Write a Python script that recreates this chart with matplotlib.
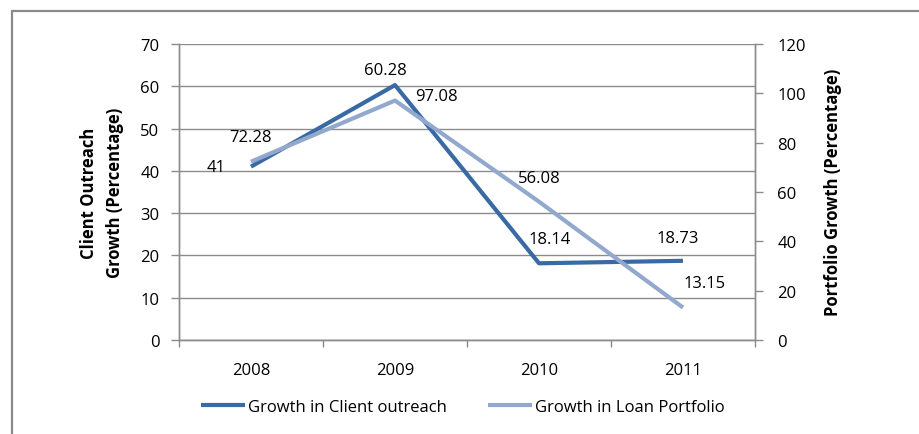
import numpy as np
import matplotlib.pyplot as plt
from matplotlib.patches import Rectangle

plt.rcParams['font.family'] = ['Open Sans', 'DejaVu Sans']

years = ['2008', '2009', '2010', '2011']
client_growth = [41, 60.28, 18.14, 18.73]
loan_growth = [72.28, 97.08, 56.08, 13.15]

# label offsets in pixels, per point
client_offsets = [(-35, 0), (-10, 15), (11, 24), (-5, 23)]
loan_offsets = [(0, 25), (41, 5), (0, 24), (22, 25)]

dark = '#3A6AA3'
light = '#93A8CD'
grid_col = '#8C8C8C'
fs = 12

fig = plt.figure(figsize=(9.19, 4.35), dpi=100)
fig.patches.append(Rectangle((12 / 919, -0.1), 1.1, 1 - 12 / 435 + 0.1,
                             transform=fig.transFigure, fill=False,
                             edgecolor='#8A8A8A', linewidth=1.6))

ax = fig.add_axes([179 / 919, 1 - 341 / 435, (755 - 179) / 919, (341 - 45) / 435])
ax2 = ax.twinx()

x = np.arange(len(years))
ax.plot(x, client_growth, color=dark, linewidth=3, solid_capstyle='butt',
        zorder=4, label='Growth in Client outreach')
ax2.plot(x, loan_growth, color=light, linewidth=3, solid_capstyle='butt',
         zorder=3, label='Growth in Loan Portfolio')

for xi, v, off in zip(x, client_growth, client_offsets):
    ax.annotate(f'{v:g}', (xi, v), xytext=off, textcoords='offset pixels',
                ha='center', va='center', fontsize=fs)
for xi, v, off in zip(x, loan_growth, loan_offsets):
    ax2.annotate(f'{v:g}', (xi, v), xytext=off, textcoords='offset pixels',
                 ha='center', va='center', fontsize=fs)

ax.set_xlim(-0.5, 3.5)
ax.set_ylim(0, 70)
ax2.set_ylim(0, 120)
ax.set_yticks(np.arange(0, 71, 10))
ax2.set_yticks(np.arange(0, 121, 20))

# category boundaries get the ticks, labels sit between them
ax.set_xticks(np.arange(-0.5, 4, 1))
ax.set_xticklabels([])
ax.set_xticks(x, minor=True)
ax.set_xticklabels(years, minor=True)
ax.tick_params(axis='x', which='major', length=5, color=grid_col, width=1)
ax.tick_params(axis='x', which='minor', length=0, pad=16, labelsize=fs)
ax.tick_params(axis='y', length=6, color=grid_col, width=1, pad=8, labelsize=fs)
ax2.tick_params(axis='y', length=6, color=grid_col, width=1, pad=10, labelsize=fs)

ax.grid(axis='y', color=grid_col, linewidth=1)
ax.set_axisbelow(True)
for a in (ax, ax2):
    a.spines['top'].set_visible(False)
    for s in ('left', 'right', 'bottom'):
        a.spines[s].set_color(grid_col)
        a.spines[s].set_linewidth(1)

fig.text(102 / 919, 1 - 193 / 435, 'Client Outreach\nGrowth (Percentage)',
         rotation=90, ha='center', va='center', fontsize=fs,
         fontweight='bold', linespacing=1.55)
fig.text(833 / 919, 1 - 192 / 435, 'Portfolio Growth (Percentage)',
         rotation=90, ha='center', va='center', fontsize=fs,
         fontweight='bold')

handles = ax.get_lines()[:1] + ax2.get_lines()[:1]
fig.legend(handles, [h.get_label() for h in handles], ncol=2,
           loc='center', bbox_to_anchor=(463 / 919, 1 - 408 / 435),
           frameon=False, fontsize=fs, handlelength=2.6,
           handletextpad=0.2, columnspacing=2.5)

fig.savefig('out.png', dpi=100)
